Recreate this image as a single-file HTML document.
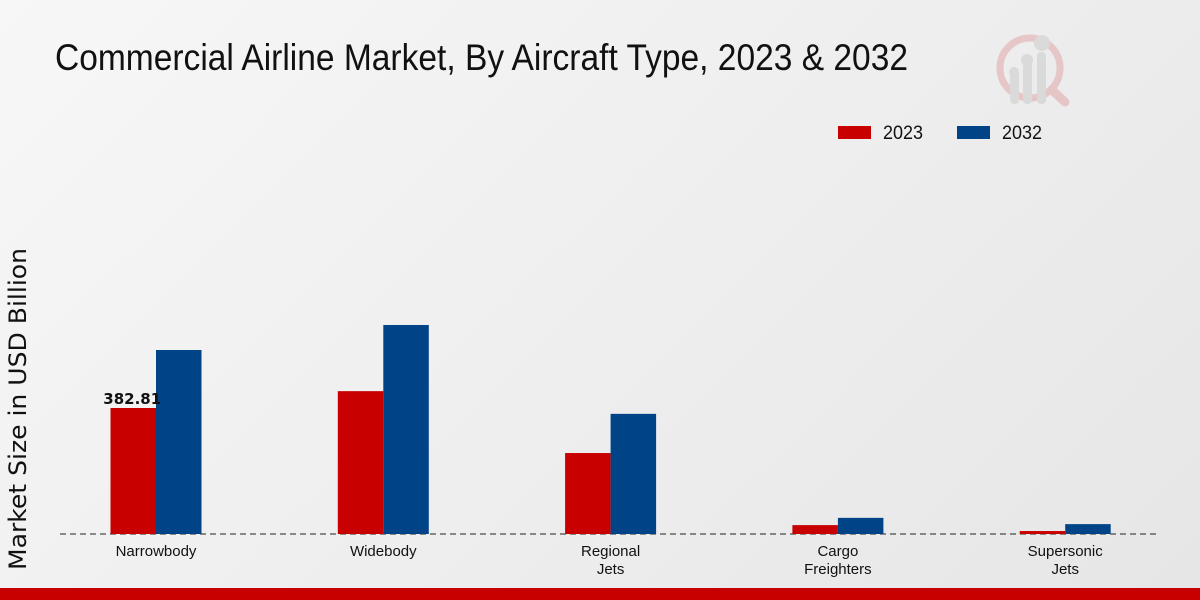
<!DOCTYPE html>
<html><head><meta charset="utf-8"><style>
body{margin:0;width:1200px;height:600px;overflow:hidden;background:linear-gradient(135deg,#f7f7f7 0%,#e6e6e6 100%);font-family:"Liberation Sans Narrow","Liberation Sans",sans-serif;}
</style></head><body>
<svg id="chart" width="1200" height="600" xmlns="http://www.w3.org/2000/svg" style="position:absolute;left:0;top:0">
<text x="55" y="70" font-size="37" fill="#111" textLength="853" lengthAdjust="spacingAndGlyphs" font-family="'Liberation Sans Narrow','Liberation Sans',sans-serif">Commercial Airline Market, By Aircraft Type, 2023 &amp; 2032</text>
<g opacity="0.5">
<circle cx="1030" cy="68" r="30" fill="none" stroke="#e0a0a0" stroke-width="7"/>
<line x1="1052" y1="90" x2="1065" y2="102" stroke="#e0a0a0" stroke-width="9" stroke-linecap="round"/>
<rect x="1010" y="72" width="9" height="32" rx="4" fill="#c8c8c8"/>
<rect x="1023" y="62" width="9" height="42" rx="4" fill="#c8c8c8"/>
<rect x="1037" y="52" width="9" height="52" rx="4" fill="#c8c8c8"/>
<circle cx="1014" cy="72" r="5" fill="#c8c8c8"/><circle cx="1027" cy="60" r="6" fill="#c8c8c8"/><circle cx="1042" cy="43" r="8" fill="#c8c8c8"/>
</g>
<g>
<rect x="838" y="126" width="33" height="13" fill="#c80000"/>
<text x="883" y="139" font-size="19" fill="#111" textLength="40" lengthAdjust="spacingAndGlyphs">2023</text>
<rect x="957" y="126" width="33" height="13" fill="#004487"/>
<text x="1002" y="139" font-size="19" fill="#111" textLength="40" lengthAdjust="spacingAndGlyphs">2032</text>
</g>
<text transform="translate(26,409) rotate(-90)" text-anchor="middle" font-size="24" fill="#111" textLength="322" lengthAdjust="spacingAndGlyphs" font-family="'DejaVu Sans',sans-serif">Market Size in USD Billion</text>
<line x1="60" y1="534" x2="1160" y2="534" stroke="#222" stroke-width="1" stroke-dasharray="6,4"/>
<g id="bars"></g>
<rect x="0" y="588" width="1200" height="12" fill="#c80000"/>
</svg>
<script>
const categories=[["Narrowbody"],["Widebody"],["Regional","Jets"],["Cargo","Freighters"],["Supersonic","Jets"]];
const values2023=[382.81,434,246,27,9];
const values2032=[559,635,365,49,30];
const ns="http://www.w3.org/2000/svg";
const g=document.getElementById("bars");
const baseY=534,scale=126/382.81,x0=156,step=227.3,bw=45.5;
const y=v=>baseY-v*scale;
function mk(t,a){const e=document.createElementNS(ns,t);for(const k in a)e.setAttribute(k,a[k]);return e;}
categories.forEach((c,i)=>{
 const cx=x0+i*step;
 const r1=mk("rect",{x:cx-bw,y:y(values2023[i]),width:bw,height:values2023[i]*scale,fill:"#c80000"});
 
 
 g.appendChild(r1);
 const r2=mk("rect",{x:cx,y:y(values2032[i]),width:bw,height:values2032[i]*scale,fill:"#004487"});
 
 
 g.appendChild(r2);
 c.forEach((line,j)=>{
  const t=mk("text",{x:cx,y:556+j*18,"text-anchor":"middle","font-size":"15",fill:"#111"});
  t.textContent=line;
  
  
  g.appendChild(t);
 });
});
const lbl=mk("text",{x:x0-bw/2-1,y:y(values2023[0])-4,"text-anchor":"middle","font-size":"15","font-weight":"bold",fill:"#111","font-family":"'DejaVu Sans',sans-serif"});
lbl.textContent=values2023[0].toFixed(2);


g.appendChild(lbl);
</script>
</body></html>
